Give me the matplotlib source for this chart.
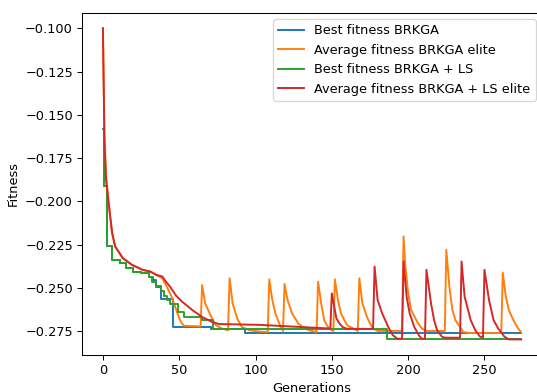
import matplotlib
matplotlib.use('Agg')
import matplotlib.pyplot as plt

# Best fitness BRKGA (step changes: generation, value)
best_brkga_gen = [0, 1, 3, 6, 11, 15, 20, 25, 30, 33, 35, 38, 46, 71, 93, 274]
best_brkga_fit = [-0.158, -0.191, -0.226, -0.2337, -0.2355, -0.2384, -0.2405, -0.2413,
                  -0.2434, -0.2455, -0.2495, -0.2565, -0.2725, -0.2735, -0.2760, -0.2760]

# Average fitness BRKGA elite
avg_brkga_gen = [0, 1, 2, 4, 6, 8, 13, 19, 26, 31, 35, 39, 42, 45, 47, 49, 51, 53, 64,
                 65, 67, 71, 74, 78, 82,
                 83, 85, 88, 91, 96, 103, 108,
                 109, 111, 113, 116, 118,
                 119, 121, 124, 128, 131, 135, 140,
                 141, 143, 145, 148, 151,
                 152, 154, 156, 160, 164, 167,
                 168, 170, 173, 175, 177, 180, 196,
                 197, 198, 200, 202, 206, 209, 212, 224,
                 225, 227, 229, 231, 234, 236, 240, 261,
                 262, 264, 266, 269, 272, 274]
avg_brkga_fit = [-0.100, -0.160, -0.184, -0.2027, -0.218, -0.226, -0.2327, -0.2366, -0.2395,
                 -0.2405, -0.2424, -0.2445, -0.2495, -0.255, -0.260, -0.265, -0.2695, -0.2718, -0.2722,
                 -0.2483, -0.2589, -0.2667, -0.2715, -0.2734, -0.2744,
                 -0.2444, -0.2589, -0.2676, -0.2725, -0.2744, -0.2752, -0.2754,
                 -0.2450, -0.2570, -0.2647, -0.2715, -0.2748,
                 -0.2477, -0.2570, -0.2647, -0.2705, -0.2725, -0.2744, -0.2754,
                 -0.2463, -0.2589, -0.2686, -0.2734, -0.2748,
                 -0.2450, -0.2570, -0.2647, -0.2715, -0.2734, -0.2748,
                 -0.2444, -0.2589, -0.2667, -0.2705, -0.2734, -0.2748, -0.2748,
                 -0.2202, -0.2356, -0.2530, -0.2628, -0.2696, -0.2734, -0.2748, -0.2748,
                 -0.2279, -0.2492, -0.2628, -0.2686, -0.2725, -0.2754, -0.2760, -0.2760,
                 -0.2411, -0.2550, -0.2628, -0.2686, -0.2734, -0.2754]

# Best fitness BRKGA + LS (step changes)
best_ls_gen = [0, 1, 3, 6, 11, 15, 20, 25, 30, 32, 35, 38, 40, 42, 44, 49, 53, 65, 72, 186, 274]
best_ls_fit = [-0.158, -0.191, -0.226, -0.2337, -0.2355, -0.2384, -0.2405, -0.2413, -0.2434,
               -0.2465, -0.2490, -0.2520, -0.2545, -0.2570, -0.2590, -0.2638, -0.2667, -0.2686,
               -0.2734, -0.2793, -0.2793]

# Average fitness BRKGA + LS elite
avg_ls_gen = [0, 1, 2, 4, 6, 8, 13, 19, 26, 31, 35, 39, 41, 44, 48, 52, 59, 65, 72, 76, 103,
              129, 149,
              150, 152, 153, 155, 157, 160, 177,
              178, 180, 183, 185, 187, 190, 193, 196,
              197, 199, 201, 204, 207, 209, 211,
              212, 215, 217, 219, 222, 224, 234,
              235, 237, 241, 244, 247, 249,
              250, 253, 256, 259, 263, 266, 274]
avg_ls_fit = [-0.100, -0.165, -0.187, -0.2027, -0.218, -0.226, -0.2327, -0.2366, -0.2395, -0.2405,
              -0.2424, -0.2434, -0.2460, -0.2492, -0.2545, -0.2580, -0.2630, -0.2667, -0.2698,
              -0.2708, -0.2713, -0.2725, -0.2734,
              -0.2531, -0.2628, -0.2676, -0.2705, -0.2725, -0.2736, -0.2736,
              -0.2376, -0.2570, -0.2647, -0.2686, -0.2725, -0.2773, -0.2793, -0.2793,
              -0.2347, -0.2550, -0.2647, -0.2725, -0.2773, -0.2793, -0.2793,
              -0.2395, -0.2589, -0.2686, -0.2744, -0.2780, -0.2787, -0.2787,
              -0.2347, -0.2550, -0.2686, -0.2744, -0.2780, -0.2787,
              -0.2395, -0.2570, -0.2686, -0.2734, -0.2780, -0.2797, -0.2797]

# the reference looks like a default figure shrunk a bit, so render at a lower dpi
dpi = 92.8
fig = plt.figure(figsize=(537 / dpi, 392 / dpi), dpi=dpi)
ax = fig.add_axes([0.1527, 0.0944, 0.8566, 0.8732])

ax.plot(best_brkga_gen, best_brkga_fit, drawstyle='steps-post', label='Best fitness BRKGA')
ax.plot(avg_brkga_gen, avg_brkga_fit, label='Average fitness BRKGA elite')
ax.plot(best_ls_gen, best_ls_fit, drawstyle='steps-post', label='Best fitness BRKGA + LS')
ax.plot(avg_ls_gen, avg_ls_fit, label='Average fitness BRKGA + LS elite')

ax.set_xlabel('Generations')
ax.set_ylabel('Fitness')
ax.legend(loc='upper right')

fig.savefig('out.png', dpi=dpi)
